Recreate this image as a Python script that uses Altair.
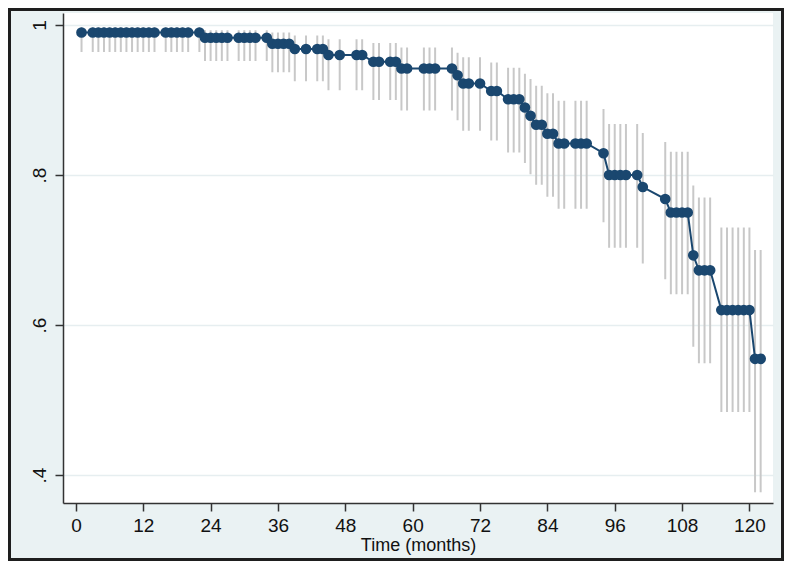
import altair as alt
import pandas as pd

# Kaplan-Meier style estimates
months = [1, 3, 4, 5, 6, 7, 8, 9, 10, 11, 12, 13, 14, 16, 17, 18, 19, 20, 22,
          23, 24, 25, 26, 27, 29, 30, 31, 32, 34,
          35, 36, 37, 38, 39, 41, 43, 44, 45, 47, 50, 51, 53, 54, 56, 57,
          58, 59, 62, 63, 64, 67, 68, 69, 70, 72, 74, 75, 77, 78, 79, 80, 81,
          82, 83, 84, 85, 86, 87, 89, 90, 91, 94, 95, 96, 97, 98, 100, 101,
          105, 106, 107, 108, 109, 110, 111, 112, 113,
          115, 116, 117, 118, 119, 120, 121, 122]

survival = [0.990] * 19 + [0.983] * 10 + \
    [0.975, 0.975, 0.975, 0.975, 0.968, 0.968, 0.968, 0.968,
     0.960, 0.960, 0.960, 0.960, 0.951, 0.951, 0.951, 0.951,
     0.942, 0.942, 0.942, 0.942, 0.942, 0.942, 0.933, 0.922, 0.922, 0.922,
     0.912, 0.912, 0.901, 0.901, 0.901, 0.890, 0.879,
     0.867, 0.867, 0.855, 0.855, 0.842, 0.842, 0.842, 0.842, 0.842,
     0.829, 0.800, 0.800, 0.800, 0.800, 0.800, 0.784,
     0.768, 0.750, 0.750, 0.750, 0.750, 0.693, 0.673, 0.673, 0.673,
     0.620, 0.620, 0.620, 0.620, 0.620, 0.620, 0.555, 0.555]

ci_lower = [0.964] * 19 + [0.952] * 10 + \
    [0.937, 0.937, 0.937, 0.937, 0.925, 0.925, 0.925, 0.925,
     0.913, 0.913, 0.913, 0.913, 0.900, 0.900, 0.900, 0.900,
     0.886, 0.886, 0.886, 0.886, 0.886, 0.886, 0.873, 0.859, 0.859, 0.859,
     0.846, 0.846, 0.830, 0.830, 0.830, 0.816, 0.801,
     0.787, 0.787, 0.771, 0.771, 0.755, 0.755, 0.755, 0.755, 0.755,
     0.737, 0.703, 0.703, 0.703, 0.703, 0.703, 0.682,
     0.661, 0.641, 0.641, 0.641, 0.641, 0.571, 0.549, 0.549, 0.549,
     0.484, 0.484, 0.484, 0.484, 0.484, 0.484, 0.377, 0.377]

ci_upper = [0.997] * 19 + [0.993] * 10 + \
    [0.990, 0.990, 0.990, 0.990, 0.986, 0.986, 0.986, 0.986,
     0.981, 0.981, 0.981, 0.981, 0.976, 0.976, 0.976, 0.976,
     0.970, 0.970, 0.970, 0.970, 0.970, 0.970, 0.963, 0.957, 0.957, 0.957,
     0.950, 0.950, 0.943, 0.943, 0.943, 0.935, 0.928,
     0.919, 0.919, 0.909, 0.909, 0.899, 0.899, 0.899, 0.899, 0.899,
     0.888, 0.868, 0.868, 0.868, 0.868, 0.868, 0.856,
     0.844, 0.831, 0.831, 0.831, 0.831, 0.786, 0.770, 0.770, 0.770,
     0.730, 0.730, 0.730, 0.730, 0.730, 0.730, 0.700, 0.700]

x_ticks = [0, 12, 24, 36, 48, 60, 72, 84, 96, 108, 120]
y_ticks = [0.4, 0.6, 0.8, 1.0]

df = pd.DataFrame({"t": months, "s": survival, "lo": ci_lower, "hi": ci_upper})

W, H = 710, 490
PAD = {"left": 55, "top": 5, "right": 11, "bottom": 58}
NAVY = "#1a476f"

xs = alt.Scale(domain=[-2.3, 124.2], nice=False, zero=False)
ys = alt.Scale(domain=[0.3627, 1.016], nice=False, zero=False)

base = alt.Chart(df)

bars = base.mark_rule(color="#c8c8c8", strokeWidth=2).encode(
    x=alt.X("t:Q", scale=xs,
            axis=alt.Axis(values=x_ticks, title="Time (months)", grid=False,
                          labelPadding=5, titlePadding=1)),
    y=alt.Y("lo:Q", scale=ys,
            axis=alt.Axis(values=y_ticks, title="", grid=True,
                          labelAngle=270, labelPadding=6,
                          labelExpr="datum.value > 0.99 ? '1' : '.' + format(datum.value * 10, '.0f')")),
    y2="hi:Q",
)

line = base.mark_line(color=NAVY, strokeWidth=2).encode(
    x=alt.X("t:Q", scale=xs), y=alt.Y("s:Q", scale=ys))

pts = base.mark_circle(color=NAVY, size=115, opacity=1).encode(
    x=alt.X("t:Q", scale=xs), y=alt.Y("s:Q", scale=ys))

frame = alt.Chart(pd.DataFrame({"a": [0]})).mark_rect(
    filled=False, stroke="#1e1e1e", strokeWidth=3, clip=False).encode(
    x=alt.value(-PAD["left"] + 1.5), x2=alt.value(W + PAD["right"] - 1.5),
    y=alt.value(-PAD["top"] + 1.5), y2=alt.value(H + PAD["bottom"] - 1.5))

chart = alt.layer(bars, line, pts, frame).properties(
    width=W, height=H, padding=PAD,
    autosize=alt.AutoSizeParams(type="none"),
    background="#eaf2f3",
).configure_view(fill="white", stroke=None).configure_axis(
    domainColor="#333333", domainWidth=1.5, tickColor="#333333", tickWidth=1.5,
    tickSize=8, labelFont="Liberation Sans", labelFontSize=19, labelColor="#111111",
    titleFont="Liberation Sans", titleFontSize=18, titleFontWeight="normal",
    titleColor="#111111", gridColor="#e6eef0", gridWidth=1.5,
)

chart.save("out.html", embed_options={"renderer": "svg", "actions": False})
